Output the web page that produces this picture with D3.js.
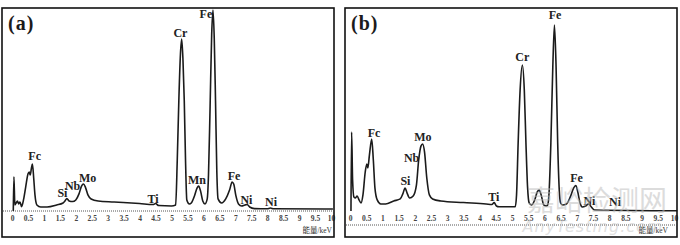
<!DOCTYPE html>
<html>
<head>
<meta charset="utf-8">
<script src="https://cdn.jsdelivr.net/npm/d3@7"></script>
<style>
body { margin: 0; background: #fff; }
svg { display: block; }
</style>
</head>
<body>
<div id="chart"></div>
<script>
// EDS spectra, [energy keV, counts (arbitrary units, Fe peak of (a) = 100)]
var spectrumA = [
	[0.04,0],[0.06,17],[0.09,3],[0.13,4],[0.17,5],[0.21,3.5],[0.25,4.5],[0.3,2.2],[0.36,5.5],
	[0.43,12],[0.5,18.4],[0.54,19.4],[0.57,17.9],[0.61,21.4],[0.64,23.4],[0.68,16.4],[0.72,8],
	[0.78,3],[0.9,2],[1.1,2],[1.4,3],[1.6,4],[1.66,5],[1.72,6.2],[1.79,5],[1.9,4.7],[2.0,5.5],
	[2.1,8.5],[2.18,12.4],[2.24,13.4],[2.3,11.9],[2.38,8],[2.48,6],[2.7,5],[3.2,4.5],[4.0,3.7],
	[4.42,3.2],[4.5,3.7],[4.6,2.7],[5.0,2.5],[5.13,3],[5.18,25],[5.23,55],[5.28,78],[5.32,85.6],
	[5.36,75],[5.4,55],[5.44,25],[5.48,5.5],[5.56,3.5],[5.62,4],[5.72,7.5],[5.8,11.4],[5.85,12.4],
	[5.91,10],[5.98,5],[6.05,3.5],[6.12,6],[6.16,18],[6.21,52],[6.26,88],[6.3,100],[6.34,86],
	[6.38,55],[6.42,20],[6.46,6],[6.57,4],[6.7,6],[6.82,10.4],[6.9,14.4],[6.95,13.4],[7.02,7.5],
	[7.1,3.5],[7.2,2.5],[7.3,3],[7.37,3.2],[7.45,2],[7.6,1.2],[8.0,1.1],[8.1,1.5],[8.2,1.1],[10.06,1]
];
var spectrumB = [
	[0.03,0],[0.05,39.3],[0.08,15.4],[0.12,7],[0.17,6.5],[0.22,7.5],[0.28,5.5],[0.34,4],[0.4,8],
	[0.47,19.4],[0.52,23.4],[0.55,21.4],[0.6,27.9],[0.67,35.8],[0.72,25.4],[0.77,11.4],[0.84,5.5],
	[0.95,3.5],[1.1,3.5],[1.35,5],[1.55,6],[1.63,8.5],[1.7,11.4],[1.76,9],[1.84,6.5],[1.95,7.5],
	[2.05,12.9],[2.12,25.4],[2.19,32.3],[2.24,33.3],[2.3,29.4],[2.37,16.4],[2.45,8],[2.55,6],[2.8,5],
	[3.5,4.2],[4.2,3.5],[4.38,3.2],[4.45,4.2],[4.52,2.5],[4.6,2.1],[5.1,2.1],[5.14,8],[5.19,34],
	[5.25,60],[5.32,72.6],[5.38,60],[5.43,34],[5.48,12],[5.53,4],[5.6,3],[5.7,5.5],[5.78,9.5],
	[5.84,10.4],[5.9,8],[5.98,3],[6.06,2.5],[6.1,3],[6.14,8],[6.2,34],[6.26,72],[6.31,92.5],
	[6.36,72],[6.41,34],[6.46,10],[6.5,4],[6.56,3],[6.68,3.5],[6.8,7],[6.9,11.4],[6.97,12.7],
	[7.03,9.5],[7.1,4],[7.17,2],[7.27,2.5],[7.36,3.5],[7.45,2],[7.55,0.5],[10.1,0.1]
];

var tickValues = [0,0.5,1,1.5,2,2.5,3,3.5,4,4.5,5,5.5,6,6.5,7,7.5,8,8.5,9,9.5,10];

// peak labels: text, energy, height (same units as the spectra)
var labelsA = ["Fc","Si","Nb","Mo","Ti","Cr","Fe","Mn","Fe","Ni","Ni"];
var labelKeVA = [0.71,1.58,1.9,2.37,4.42,5.28,6.08,5.8,6.96,7.35,8.12];
var labelCntA = [27.4,9,12.4,16.4,6,88.6,98,15.4,17.4,5.5,4.5];

var labelsB = ["Fc","Nb","Si","Mo","Ti","Cr","Fe","Fe","Ni","Ni"];
var labelKeVB = [0.74,1.9,1.71,2.25,4.44,5.32,6.33,6.99,7.39,8.18];
var labelCntB = [38.8,26.4,14.9,36.8,7,76.6,97.5,16.4,5,4.5];

var svg = d3.select("#chart").append("svg").attr("width", 680).attr("height", 245);
svg.append("rect").attr("width", 680).attr("height", 245).attr("fill", "#fff");

function drawPanel(p)
{
	var g = svg.append("g");
	var x = d3.scaleLinear().domain([0, 10]).range(p.xRange);
	var y = d3.scaleLinear().domain([0, 100]).range([211, 10]);

	// dotted axis line
	g.append("line")
		.attr("x1", p.box[0] + 1).attr("x2", p.box[2] - 1)
		.attr("y1", p.dotY).attr("y2", p.dotY)
		.attr("stroke", "#555").attr("stroke-width", 1).attr("stroke-dasharray", "1,1");

	// peak labels
	g.selectAll("text.peak").data(p.labels).enter().append("text")
		.attr("class", "peak")
		.attr("x", function(d, i) { return x(p.labelKeV[i]); })
		.attr("y", function(d, i) { return y(p.labelCnt[i]); })
		.attr("text-anchor", "middle").attr("dominant-baseline", "central")
		.style("font-family", "'Liberation Serif', 'DejaVu Serif', serif")
		.style("font-weight", "bold").style("font-size", "12px")
		.attr("fill", "#222")
		.text(function(d) { return d; });

	var line = d3.line()
		.x(function(d) { return x(d[0]); })
		.y(function(d) { return y(d[1]); })
		.curve(d3.curveMonotoneX);
	g.append("path").datum(p.data)
		.attr("d", line).attr("fill", "none")
		.attr("stroke", "#1b1b1b").attr("stroke-width", 1.6).attr("stroke-linejoin", "round");

	// tick labels
	var axis = g.append("g").attr("transform", "translate(0,216)")
		.call(d3.axisBottom(x).tickValues(tickValues).tickSize(0).tickPadding(0)
			.tickFormat(function(d) { return String(d); }));
	axis.select(".domain").remove();
	axis.selectAll("text")
		.attr("dy", "0.71em")
		.style("font-family", "'Liberation Serif', serif")
		.style("font-weight", "bold").style("font-size", "7.5px")
		.attr("fill", "#444");

	g.append("text")
		.attr("x", p.unitX).attr("y", 233).attr("text-anchor", "end")
		.style("font-family", "'Liberation Serif', 'Noto Sans CJK SC', serif")
		.style("font-size", "7.5px").attr("fill", "#333")
		.text("能量/keV");

	// panel letter
	g.append("text")
		.attr("x", p.box[0] + 6).attr("y", 30)
		.style("font-family", "'Liberation Serif', serif")
		.style("font-weight", "bold").style("font-size", "20px")
		.style("letter-spacing", "1px")
		.attr("fill", "#1b1b1b")
		.text(p.letter);

	g.append("rect")
		.attr("x", p.box[0]).attr("y", p.box[1])
		.attr("width", p.box[2] - p.box[0]).attr("height", p.box[3] - p.box[1])
		.attr("fill", "none").attr("stroke", "#111").attr("stroke-width", 1.6);
}

drawPanel({ data: spectrumA, letter: "(a)", box: [2, 8, 334, 237], xRange: [12, 331],
	dotY: 211, unitX: 332, labels: labelsA, labelKeV: labelKeVA, labelCnt: labelCntA });
drawPanel({ data: spectrumB, letter: "(b)", box: [345, 8, 677, 237], xRange: [350, 674],
	dotY: 225, unitX: 668, labels: labelsB, labelKeV: labelKeVB, labelCnt: labelCntB });

// watermark on panel (b)
svg.append("text").attr("x", 597).attr("y", 211).attr("text-anchor", "middle")
	.style("font-family", "'Noto Sans CJK SC', sans-serif").style("font-size", "28px")
	.attr("fill", "#bbb").attr("opacity", 0.5).text("嘉峪检测网");
svg.append("text").attr("x", 593).attr("y", 232).attr("text-anchor", "middle")
	.style("font-family", "'DejaVu Sans', sans-serif").style("font-style", "italic")
	.style("font-size", "16px").style("letter-spacing", "1px")
	.attr("fill", "#bbb").attr("opacity", 0.45).text("AnyTesting.com");
</script>
</body>
</html>
